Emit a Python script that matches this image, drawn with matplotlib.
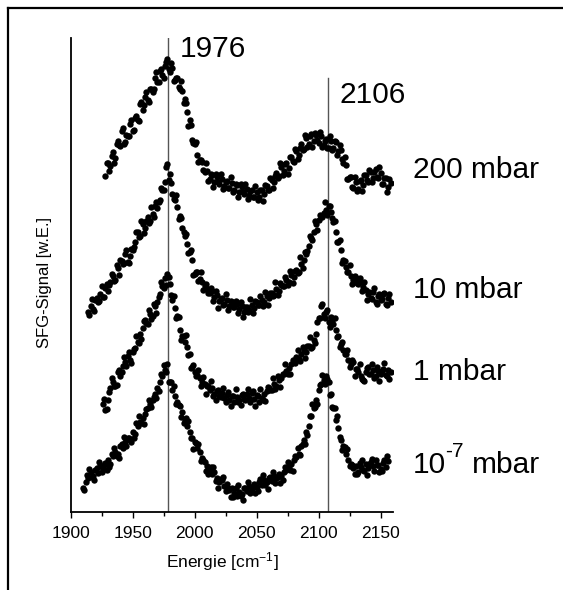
import matplotlib
matplotlib.use("Agg")
import matplotlib.pyplot as plt
from matplotlib.lines import Line2D
from matplotlib.transforms import offset_copy

plt.rcParams['font.family'] = ['Liberation Sans', 'DejaVu Sans']
plt.rcParams['mathtext.fontset'] = 'custom'
plt.rcParams['mathtext.rm'] = 'Liberation Sans'
plt.rcParams['mathtext.it'] = 'Liberation Sans:italic'
plt.rcParams['mathtext.bf'] = 'Liberation Sans:bold'

# ---- data (energy in cm^-1, signal in arbitrary units incl. vertical offset) ----
# 200 mbar
x_200 = [1928, 1930, 1932, 1934, 1936, 1938, 1940, 1942, 1944, 1946,
         1948, 1950, 1952, 1954, 1956, 1958, 1960, 1962, 1964, 1966,
         1968, 1970, 1972, 1974, 1976, 1978, 1980, 1982, 1984, 1986,
         1988, 1990, 1992, 1994, 1996, 1998, 2000, 2002, 2004, 2006,
         2008, 2010, 2012, 2014, 2016, 2018, 2020, 2022, 2024, 2026,
         2028, 2030, 2032, 2034, 2036, 2038, 2040, 2042, 2044, 2046,
         2048, 2050, 2052, 2054, 2056, 2058, 2060, 2062, 2064, 2066,
         2068, 2070, 2072, 2074, 2076, 2078, 2080, 2082, 2084, 2086,
         2088, 2090, 2092, 2094, 2096, 2098, 2100, 2102, 2104, 2106,
         2108, 2110, 2112, 2114, 2116, 2118, 2120, 2122, 2124, 2126,
         2128, 2130, 2132, 2134, 2136, 2138, 2140, 2142, 2144, 2146,
         2148, 2150, 2152, 2154, 2156, 2158]
y_200 = [336, 349, 346, 360, 354, 371, 366, 384, 370, 376,
         388, 381, 394, 392, 408, 402, 415, 412, 423, 420,
         434, 430, 441, 437, 446, 453, 440, 444, 432, 434,
         423, 421, 413, 400, 392, 372, 368, 357, 352, 350,
         340, 341, 333, 337, 330, 335, 328, 333, 326, 331,
         324, 329, 322, 327, 320, 325, 318, 323, 317, 322,
         315, 320, 315, 322, 318, 326, 322, 332, 330, 339,
         336, 345, 341, 349, 344, 355, 350, 361, 357, 368,
         363, 374, 368, 378, 371, 377, 369, 376, 367, 373,
         364, 371, 364, 370, 361, 362, 349, 347, 333, 335,
         324, 330, 323, 332, 327, 337, 330, 340, 334, 343,
         334, 339, 328, 334, 325, 329]
x_200b = [1929, 1931, 1933, 1935, 1937, 1939, 1941, 1943, 1945, 1947,
          1949, 1951, 1953, 1955, 1957, 1959, 1961, 1963, 1965, 1967,
          1969, 1971, 1973, 1975, 1977, 1979, 1981, 1983, 1985, 1987,
          1989, 1991, 1993, 1995, 1997, 1999, 2001, 2003, 2005, 2007,
          2009, 2011, 2013, 2015, 2017, 2019, 2021, 2023, 2025, 2027,
          2029, 2031, 2033, 2035, 2037, 2039, 2041, 2043, 2045, 2047,
          2049, 2051, 2053, 2055, 2057, 2059, 2061, 2063, 2065, 2067,
          2069, 2071, 2073, 2075, 2077, 2079, 2081, 2083, 2085, 2087,
          2089, 2091, 2093, 2095, 2097, 2099, 2101, 2103, 2105, 2107,
          2109, 2111, 2113, 2115, 2117, 2119, 2121, 2123, 2125, 2127,
          2129, 2131, 2133, 2135, 2137, 2139, 2141, 2143, 2145, 2147,
          2149, 2151, 2153, 2155, 2157]
y_200b = [349, 341, 356, 349, 368, 367, 381, 368, 377, 376,
          392, 382, 396, 391, 410, 407, 420, 410, 423, 423,
          440, 430, 443, 434, 450, 443, 449, 431, 434, 425,
          431, 409, 409, 386, 387, 369, 370, 350, 352, 342,
          349, 331, 338, 325, 338, 330, 338, 323, 330, 324,
          335, 320, 328, 315, 328, 320, 328, 313, 321, 315,
          326, 312, 322, 311, 327, 322, 334, 324, 336, 334,
          349, 337, 348, 338, 355, 351, 363, 353, 364, 362,
          377, 365, 376, 365, 379, 372, 380, 365, 371, 364,
          376, 362, 371, 357, 367, 353, 355, 333, 335, 325,
          335, 321, 331, 321, 337, 332, 342, 330, 340, 335,
          345, 328, 334, 320, 333]

# 10 mbar
x_10 = [1914, 1916, 1918, 1920, 1922, 1924, 1926, 1928, 1930, 1932,
        1934, 1936, 1938, 1940, 1942, 1944, 1946, 1948, 1950, 1952,
        1954, 1956, 1958, 1960, 1962, 1964, 1966, 1968, 1970, 1972,
        1974, 1976, 1978, 1980, 1982, 1984, 1986, 1988, 1990, 1992,
        1994, 1996, 1998, 2000, 2002, 2004, 2006, 2008, 2010, 2012,
        2014, 2016, 2018, 2020, 2022, 2024, 2026, 2028, 2030, 2032,
        2034, 2036, 2038, 2040, 2042, 2044, 2046, 2048, 2050, 2052,
        2054, 2056, 2058, 2060, 2062, 2064, 2066, 2068, 2070, 2072,
        2074, 2076, 2078, 2080, 2082, 2084, 2086, 2088, 2090, 2092,
        2094, 2096, 2098, 2100, 2102, 2104, 2106, 2108, 2110, 2112,
        2114, 2116, 2118, 2120, 2122, 2124, 2126, 2128, 2130, 2132,
        2134, 2136, 2138, 2140, 2142, 2144, 2146, 2148, 2150, 2152,
        2154, 2156, 2158]
y_10 = [200, 206, 203, 212, 210, 218, 215, 224, 221, 230,
        236, 232, 244, 252, 248, 258, 250, 256, 262, 270,
        280, 276, 288, 284, 295, 291, 298, 306, 304, 312,
        322, 330, 348, 338, 318, 312, 305, 296, 284, 276,
        268, 260, 252, 238, 240, 233, 230, 226, 223, 219,
        221, 215, 217, 211, 214, 208, 212, 206, 210, 205,
        208, 203, 206, 200, 205, 202, 207, 204, 210, 207,
        212, 210, 216, 214, 219, 217, 223, 221, 227, 226,
        232, 230, 237, 235, 242, 240, 248, 252, 258, 266,
        274, 280, 288, 292, 296, 299, 302, 306, 300, 290,
        280, 270, 262, 252, 245, 240, 236, 232, 234, 228,
        230, 225, 222, 218, 214, 220, 210, 216, 212, 218,
        208, 214, 210]
x_10b = [1915, 1917, 1919, 1921, 1923, 1925, 1927, 1929, 1931, 1933,
         1935, 1937, 1939, 1941, 1943, 1945, 1947, 1949, 1951, 1953,
         1955, 1957, 1959, 1961, 1963, 1965, 1967, 1969, 1971, 1973,
         1975, 1977, 1979, 1981, 1983, 1985, 1987, 1989, 1991, 1993,
         1995, 1997, 1999, 2001, 2003, 2005, 2007, 2009, 2011, 2013,
         2015, 2017, 2019, 2021, 2023, 2025, 2027, 2029, 2031, 2033,
         2035, 2037, 2039, 2041, 2043, 2045, 2047, 2049, 2051, 2053,
         2055, 2057, 2059, 2061, 2063, 2065, 2067, 2069, 2071, 2073,
         2075, 2077, 2079, 2081, 2083, 2085, 2087, 2089, 2091, 2093,
         2095, 2097, 2099, 2101, 2103, 2105, 2107, 2109, 2111, 2113,
         2115, 2117, 2119, 2121, 2123, 2125, 2127, 2129, 2131, 2133,
         2135, 2137, 2139, 2141, 2143, 2145, 2147, 2149, 2151, 2153,
         2155, 2157]
y_10b = [197, 213, 201, 214, 211, 226, 215, 228, 227, 238,
         231, 247, 237, 251, 249, 262, 249, 263, 265, 280,
         275, 291, 279, 291, 289, 305, 295, 310, 310, 324,
         322, 345, 332, 329, 313, 317, 293, 294, 280, 278,
         259, 262, 237, 240, 231, 240, 222, 228, 219, 224,
         211, 221, 204, 213, 207, 218, 202, 211, 205, 211,
         199, 210, 195, 205, 200, 213, 199, 211, 207, 216,
         206, 220, 207, 219, 216, 230, 217, 229, 226, 235,
         227, 241, 229, 241, 239, 255, 244, 260, 261, 276,
         272, 291, 282, 297, 295, 310, 297, 306, 294, 291,
         270, 272, 249, 251, 240, 247, 228, 236, 229, 234,
         221, 230, 212, 220, 213, 224, 208, 218, 213, 219,
         207, 218]

# 1 mbar
x_1 = [1926, 1928, 1930, 1932, 1934, 1936, 1938, 1940, 1942, 1944,
       1946, 1948, 1950, 1952, 1954, 1956, 1958, 1960, 1962, 1964,
       1966, 1968, 1970, 1972, 1974, 1976, 1978, 1980, 1982, 1984,
       1986, 1988, 1990, 1992, 1994, 1996, 1998, 2000, 2002, 2004,
       2006, 2008, 2010, 2012, 2014, 2016, 2018, 2020, 2022, 2024,
       2026, 2028, 2030, 2032, 2034, 2036, 2038, 2040, 2042, 2044,
       2046, 2048, 2050, 2052, 2054, 2056, 2058, 2060, 2062, 2064,
       2066, 2068, 2070, 2072, 2074, 2076, 2078, 2080, 2082, 2084,
       2086, 2088, 2090, 2092, 2094, 2096, 2098, 2100, 2102, 2104,
       2106, 2108, 2110, 2112, 2114, 2116, 2118, 2120, 2122, 2124,
       2126, 2128, 2130, 2132, 2134, 2136, 2138, 2140, 2142, 2144,
       2146, 2148, 2150, 2152, 2154, 2156, 2158]
y_1 = [108, 102, 112, 124, 130, 126, 140, 136, 146, 150,
       156, 152, 160, 164, 170, 178, 184, 192, 188, 198,
       196, 206, 210, 218, 226, 234, 238, 228, 212, 204,
       196, 182, 176, 170, 165, 158, 145, 140, 137, 134,
       130, 128, 126, 122, 124, 118, 121, 116, 119, 114,
       117, 112, 116, 110, 115, 112, 117, 113, 118, 114,
       119, 113, 117, 110, 114, 118, 121, 124, 122, 128,
       126, 132, 134, 138, 141, 144, 148, 150, 155, 153,
       158, 162, 160, 166, 164, 172, 178, 194, 206, 198,
       200, 190, 195, 188, 182, 176, 168, 162, 158, 152,
       148, 150, 143, 140, 136, 132, 140, 145, 138, 142,
       136, 141, 138, 143, 137, 142, 140]
x_1b = [1927, 1929, 1931, 1933, 1935, 1937, 1939, 1941, 1943, 1945,
        1947, 1949, 1951, 1953, 1955, 1957, 1959, 1961, 1963, 1965,
        1967, 1969, 1971, 1973, 1975, 1977, 1979, 1981, 1983, 1985,
        1987, 1989, 1991, 1993, 1995, 1997, 1999, 2001, 2003, 2005,
        2007, 2009, 2011, 2013, 2015, 2017, 2019, 2021, 2023, 2025,
        2027, 2029, 2031, 2033, 2035, 2037, 2039, 2041, 2043, 2045,
        2047, 2049, 2051, 2053, 2055, 2057, 2059, 2061, 2063, 2065,
        2067, 2069, 2071, 2073, 2075, 2077, 2079, 2081, 2083, 2085,
        2087, 2089, 2091, 2093, 2095, 2097, 2099, 2101, 2103, 2105,
        2107, 2109, 2111, 2113, 2115, 2117, 2119, 2121, 2123, 2125,
        2127, 2129, 2131, 2133, 2135, 2137, 2139, 2141, 2143, 2145,
        2147, 2149, 2151, 2153, 2155, 2157]
y_1b = [113, 103, 120, 134, 126, 127, 142, 140, 155, 146,
        160, 149, 163, 176, 169, 173, 191, 189, 202, 193,
        208, 199, 215, 230, 224, 227, 235, 217, 216, 194,
        195, 172, 176, 177, 157, 144, 147, 136, 142, 126,
        135, 118, 126, 131, 116, 112, 122, 115, 124, 110,
        120, 106, 116, 123, 110, 107, 118, 112, 123, 110,
        121, 106, 116, 123, 112, 111, 125, 122, 134, 123,
        136, 125, 138, 148, 138, 138, 152, 149, 162, 151,
        165, 154, 166, 175, 165, 169, 190, 194, 208, 194,
        202, 185, 192, 194, 175, 165, 170, 158, 162, 145,
        152, 136, 143, 148, 133, 131, 144, 138, 148, 134,
        145, 131, 141, 149, 136, 133]

# 1e-7 mbar
x_7 = [1910, 1912, 1914, 1916, 1918, 1920, 1922, 1924, 1926, 1928,
       1930, 1932, 1934, 1936, 1938, 1940, 1942, 1944, 1946, 1948,
       1950, 1952, 1954, 1956, 1958, 1960, 1962, 1964, 1966, 1968,
       1970, 1972, 1974, 1976, 1978, 1980, 1982, 1984, 1986, 1988,
       1990, 1992, 1994, 1996, 1998, 2000, 2002, 2004, 2006, 2008,
       2010, 2012, 2014, 2016, 2018, 2020, 2022, 2024, 2026, 2028,
       2030, 2032, 2034, 2036, 2038, 2040, 2042, 2044, 2046, 2048,
       2050, 2052, 2054, 2056, 2058, 2060, 2062, 2064, 2066, 2068,
       2070, 2072, 2074, 2076, 2078, 2080, 2082, 2084, 2086, 2088,
       2090, 2092, 2094, 2096, 2098, 2100, 2102, 2104, 2106, 2108,
       2110, 2112, 2114, 2116, 2118, 2120, 2122, 2124, 2126, 2128,
       2130, 2132, 2134, 2136, 2138, 2140, 2142, 2144, 2146, 2148,
       2150, 2152, 2154, 2156]
y_7 = [24, 30, 34, 40, 36, 42, 39, 46, 43, 49,
       52, 48, 56, 60, 58, 66, 64, 70, 74, 72,
       80, 78, 86, 90, 94, 98, 104, 108, 112, 118,
       124, 130, 136, 142, 148, 130, 122, 116, 110, 106,
       100, 92, 86, 80, 74, 70, 64, 60, 54, 50,
       46, 42, 38, 40, 34, 30, 32, 26, 28, 22,
       24, 19, 16, 20, 18, 24, 21, 26, 23, 28,
       25, 30, 27, 32, 30, 34, 31, 36, 34, 38,
       36, 40, 42, 46, 48, 52, 55, 58, 66, 72,
       80, 86, 96, 104, 112, 122, 128, 132, 136, 130,
       118, 104, 92, 84, 72, 66, 58, 52, 48, 44,
       46, 40, 45, 42, 48, 44, 50, 46, 52, 47,
       43, 49, 45, 51]
x_7b = [1911, 1913, 1915, 1917, 1919, 1921, 1923, 1925, 1927, 1929,
        1931, 1933, 1935, 1937, 1939, 1941, 1943, 1945, 1947, 1949,
        1951, 1953, 1955, 1957, 1959, 1961, 1963, 1965, 1967, 1969,
        1971, 1973, 1975, 1977, 1979, 1981, 1983, 1985, 1987, 1989,
        1991, 1993, 1995, 1997, 1999, 2001, 2003, 2005, 2007, 2009,
        2011, 2013, 2015, 2017, 2019, 2021, 2023, 2025, 2027, 2029,
        2031, 2033, 2035, 2037, 2039, 2041, 2043, 2045, 2047, 2049,
        2051, 2053, 2055, 2057, 2059, 2061, 2063, 2065, 2067, 2069,
        2071, 2073, 2075, 2077, 2079, 2081, 2083, 2085, 2087, 2089,
        2091, 2093, 2095, 2097, 2099, 2101, 2103, 2105, 2107, 2109,
        2111, 2113, 2115, 2117, 2119, 2121, 2123, 2125, 2127, 2129,
        2131, 2133, 2135, 2137, 2139, 2141, 2143, 2145, 2147, 2149,
        2151, 2153, 2155]
y_7b = [22, 37, 43, 35, 32, 44, 50, 40, 47, 42,
        45, 58, 64, 56, 54, 68, 75, 66, 74, 70,
        74, 89, 96, 89, 88, 103, 112, 105, 115, 114,
        121, 138, 147, 140, 130, 130, 126, 108, 107, 95,
        89, 94, 91, 74, 63, 69, 68, 51, 52, 41,
        38, 45, 45, 31, 24, 33, 35, 21, 24, 15,
        15, 24, 27, 16, 12, 24, 30, 19, 25, 19,
        21, 33, 37, 27, 23, 35, 40, 29, 35, 29,
        32, 45, 50, 42, 41, 56, 64, 57, 68, 68,
        77, 96, 108, 105, 108, 127, 137, 128, 133, 117,
        105, 104, 96, 75, 62, 65, 63, 46, 47, 38,
        38, 49, 52, 41, 37, 48, 53, 41, 47, 40,
        41, 52, 56]

series = [(x_200 + x_200b, y_200 + y_200b),
          (x_10 + x_10b, y_10 + y_10b),
          (x_1 + x_1b, y_1 + y_1b),
          (x_7 + x_7b, y_7 + y_7b)]
series_labels = ["200 mbar", "10 mbar", "1 mbar"]
label_y = [334, 214, 132]
label_low_y = 39
peak_pos = [1978.5, 2107.2]
peak_labels = ["1976", "2106"]
peak_line_top = [474, 434]
peak_text_y = [455, 409]

# ---- figure ----
W, H = 563, 590
fig = plt.figure(figsize=(W / 100, H / 100), dpi=100)
ax = fig.add_axes([70.7 / W, 1 - 511.6 / H, 322.3 / W, 473.9 / H])

for xs, ys in series:
    ax.plot(xs, ys, linestyle='none', marker='o', markersize=4.6,
            color='black', markeredgewidth=0)

for xp, top in zip(peak_pos, peak_line_top):
    ax.plot([xp, xp], [0, top], color='#555555', linewidth=1.0, zorder=0)

for txt, xp, ty in zip(peak_labels, peak_pos, peak_text_y):
    ax.text(xp + 9.5, ty, txt, fontsize=21.5, ha='left', va='baseline',
            clip_on=False)

for txt, ly in zip(series_labels, label_y):
    ax.text(2176, ly, txt, fontsize=21.5, ha='left', va='baseline',
            clip_on=False)

# "10^-7 mbar" built from pieces so the exponent keeps a plain hyphen
ax.text(2176, label_low_y, "10", fontsize=21.5, ha='left', va='baseline',
        clip_on=False)
ax.text(2176, label_low_y, "-7", fontsize=15, ha='left', va='baseline',
        clip_on=False,
        transform=offset_copy(ax.transData, fig=fig, x=32, y=16, units='dots'))
ax.text(2176, label_low_y, "mbar", fontsize=21.5, ha='left', va='baseline',
        clip_on=False,
        transform=offset_copy(ax.transData, fig=fig, x=59, y=0, units='dots'))

ax.set_xlim(1900, 2160)
ax.set_ylim(0, 474)
ax.set_xticks([1900, 1950, 2000, 2050, 2100, 2150])
ax.set_xticks([1925, 1975, 2025, 2075, 2125], minor=True)
ax.set_yticks([])
ax.tick_params(axis='x', which='major', direction='out', length=4.5,
               width=1.0, labelsize=12.5, pad=6)
ax.tick_params(axis='x', which='minor', direction='out', length=3,
               width=1.0)
for s in ['top', 'right']:
    ax.spines[s].set_visible(False)
for s in ['left', 'bottom']:
    ax.spines[s].set_linewidth(1.3)

fig.text(222 / W, 1 - 562 / H, "Energie [cm$^{-1}$]", fontsize=12.5,
         ha='center', va='center')
fig.text(44 / W, 1 - 282 / H, "SFG-Signal [w.E.]", fontsize=12,
         ha='center', va='center', rotation=90)

# outer frame (partial)
fig.add_artist(Line2D([8 / W, 8 / W], [0, 1 - 8 / H], transform=fig.transFigure,
                      color='black', linewidth=1.6))
fig.add_artist(Line2D([8 / W, 1], [1 - 8 / H, 1 - 8 / H], transform=fig.transFigure,
                      color='black', linewidth=1.6))

fig.savefig("out.png", dpi=100)
